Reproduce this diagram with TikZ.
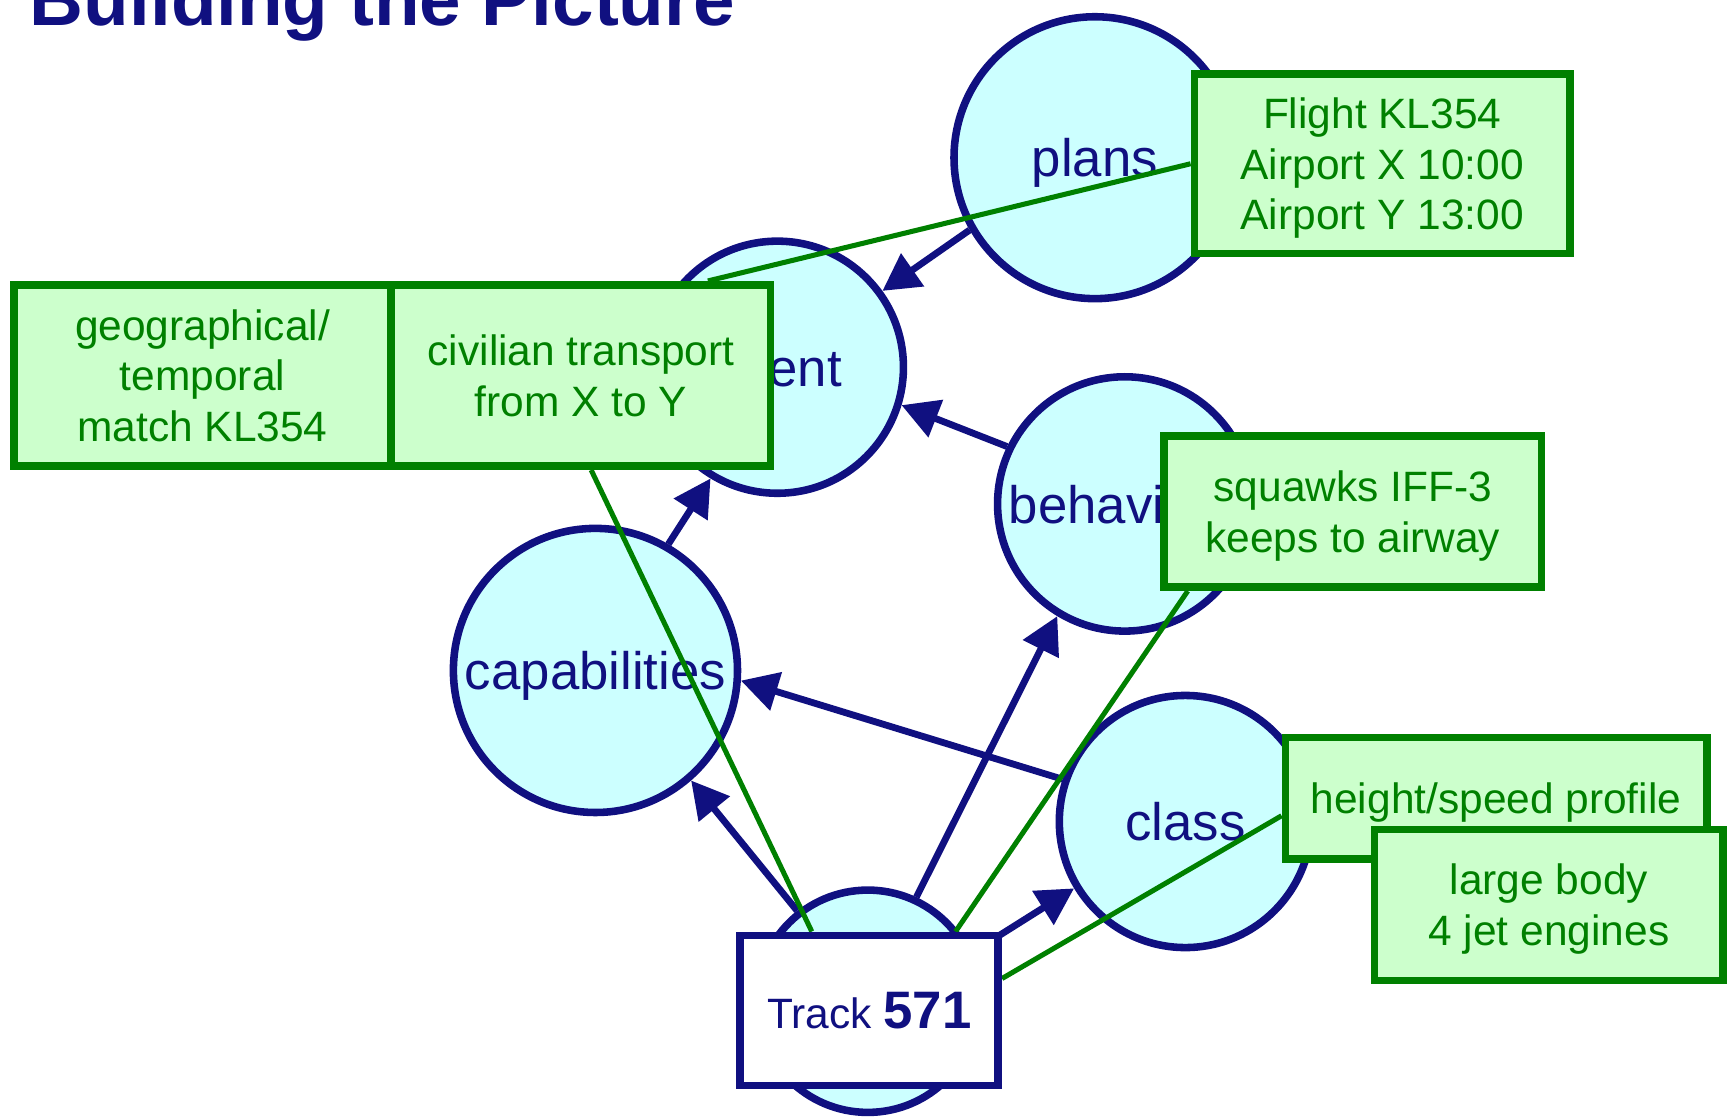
\documentclass[tikz,border=0pt]{standalone}
\usepackage{fontspec}
\setmainfont{Liberation Sans}
\usetikzlibrary{arrows.meta,calc}
\pgfdeclarelayer{back}
\pgfdeclarelayer{middle}
\pgfsetlayers{back,middle,main}

\definecolor{navy}{RGB}{16,16,128}
\definecolor{pale}{RGB}{204,255,255}
\definecolor{leaf}{RGB}{0,128,0}
\definecolor{mint}{RGB}{204,255,204}

\begin{document}
\begin{tikzpicture}[x=0.01cm,y=-0.01cm,
  concept/.style={circle, draw=navy, fill=pale, line width=1.95pt, inner sep=0pt,
    text=navy, text depth=0pt, font=\fontsize{13.6}{16}\selectfont},
  evidence/.style={rectangle, draw=leaf, fill=mint, line width=1.95pt, inner sep=0pt,
    text=leaf, align=center, text depth=0pt, font=\fontsize{10.95}{13.1}\selectfont},
  infer/.style={draw=navy, line width=1.75pt, -{Triangle[length=9.5pt,width=10pt]}},
  link/.style={draw=leaf, line width=1.3pt},
]
\useasboundingbox (0,0) rectangle (1568,1014);

% title
\node[anchor=base west, inner sep=0pt, text=navy,
      font=\fontsize{19.25}{23}\selectfont\bfseries] (title) at (26.5,22.7) {Building the Picture};

% concept circles and inference arrows
\begin{pgfonlayer}{back}
\node[concept, minimum size=2.555cm] (plans)  at (993,143)  {plans};
\node[concept, minimum size=2.285cm] (intent) at (705,333)  {intent};
\node[concept, minimum size=2.305cm] (behav)  at (1020,457) {behaviour};
\node[concept, minimum size=2.575cm] (capab)  at (540,608)  {capabilities};
\node[concept, minimum size=2.285cm] (klass)  at (1075,745) {class};
\node[concept, minimum size=2.015cm] (ident)  at (787,908)  {};

\draw[infer] (plans.210) -- (intent.36);
\draw[infer] (behav.154) -- (intent.-17);
\draw[infer] (capab.60) -- (intent.239);
\draw[infer] (klass.161) -- (capab.-4.5);
\draw[infer] (ident.128) -- (capab.-49);
\draw[infer] (ident.65) -- (behav.239.5);
\draw[infer] (ident.25) -- (klass.211);
\end{pgfonlayer}

% evidence boxes
\node[evidence, minimum width=3.405cm, minimum height=1.625cm] (flight)  at (1253.5,148.5) {Flight KL354\\Airport X 10:00\\Airport Y 13:00};
\node[evidence, minimum width=3.42cm,  minimum height=1.645cm] (geo)     at (183.7,340.5)  {geographical/\\temporal\\match KL354};
\node[evidence, minimum width=3.435cm, minimum height=1.645cm] (civil)   at (527,340.5)    {civilian transport\\from X to Y};
\node[evidence, minimum width=3.418cm, minimum height=1.372cm] (squawk)  at (1226.8,463.9) {squawks IFF-3\\keeps to airway};
\node[evidence, minimum width=3.82cm,  minimum height=1.10cm]  (profile) at (1356.75,724)  {height/speed profile};
\node[evidence, minimum width=3.16cm,  minimum height=1.37cm]  (body)    at (1404.7,820.6) {large body\\4 jet engines};

% track box
\node[draw=navy, fill=white, line width=1.95pt, inner sep=0pt, text=navy,
      minimum width=2.34cm, minimum height=1.36cm] (track) at (788.25,916.25)
      {\fontsize{10.95}{13}\selectfont Track \fontsize{13.6}{16}\selectfont\bfseries 571};

% evidence links
\begin{pgfonlayer}{middle}
\draw[link] (flight.west) -- ($(civil.north west)!0.828!(civil.north east)$);
\draw[link] ($(civil.south west)!0.526!(civil.south east)$) -- ($(track.north west)!0.284!(track.north east)$);
\draw[link] ($(squawk.south west)!0.071!(squawk.south east)$) -- ($(track.north west)!0.825!(track.north east)$);
\draw[link] ($(profile.north west)!0.635!(profile.south west)$) -- ($(track.north east)!0.298!(track.south east)$);
\end{pgfonlayer}
\end{tikzpicture}
\end{document}
